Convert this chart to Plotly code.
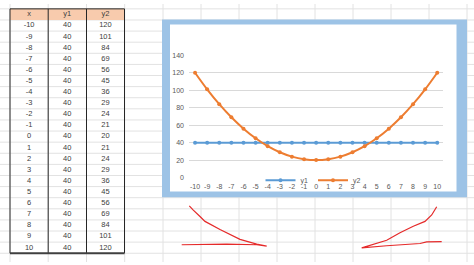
import plotly.graph_objects as go

# ---- data ----
x_vals = [-10, -9, -8, -7, -6, -5, -4, -3, -2, -1, 0, 1, 2, 3, 4, 5, 6, 7, 8, 9, 10]
y1_vals = [40, 40, 40, 40, 40, 40, 40, 40, 40, 40, 40, 40, 40, 40, 40, 40, 40, 40, 40, 40, 40]
y2_vals = [120, 101, 84, 69, 56, 45, 36, 29, 24, 21, 20, 21, 24, 29, 36, 45, 56, 69, 84, 101, 120]
table_headers = ["x", "y1", "y2"]
y_ticks = [0, 20, 40, 60, 80, 100, 120, 140]
x_ticktext = [str(v) for v in x_vals]

W, H = 474, 265
FONT = "Liberation Sans"
TOP, BOT = 5.0, 256.0
PITCH = (BOT - TOP) / 22


def px(v):
    return v / W


def py(v):
    return 1 - v / H


fig = go.Figure()

# chart series
fig.add_trace(go.Scatter(x=x_vals, y=y1_vals, name="y1", mode="lines+markers",
                         line=dict(color="#5b9bd5", width=2),
                         marker=dict(size=4, color="#5b9bd5")))
fig.add_trace(go.Scatter(x=x_vals, y=y2_vals, name="y2", mode="lines+markers",
                         line=dict(color="#ed7d31", width=2, shape="spline"),
                         marker=dict(size=4, color="#ed7d31")))

# spreadsheet table text (header row 0, data rows 1..21)
for ci, (hdr, col) in enumerate(zip(table_headers, [x_vals, y1_vals, y2_vals])):
    fig.add_trace(go.Scatter(
        x=[ci + 0.5] * (len(col) + 1), y=list(range(len(col) + 1)),
        text=[hdr] + [str(v) for v in col], mode="text", textposition="middle center",
        textfont=dict(family=FONT, size=7.5, color="#404040"),
        xaxis="x2", yaxis="y2", showlegend=False, hoverinfo="skip"))

shapes = []
# spreadsheet grid lines (background)
grid_col = "#e2e2e2"
k = -1
while True:
    yy = TOP + PITCH * k
    if yy > H:
        break
    if yy >= 0:
        shapes.append(dict(type="line", xref="paper", yref="paper", layer="below",
                           x0=0, x1=1, y0=py(yy), y1=py(yy),
                           line=dict(color=grid_col, width=1)))
    k += 1
for xx in [10, 48.2, 86.5, 124.7, 163, 201, 239, 277, 315, 353, 391, 429, 467]:
    shapes.append(dict(type="line", xref="paper", yref="paper", layer="below",
                       x0=px(xx), x1=px(xx), y0=0, y1=1,
                       line=dict(color=grid_col, width=1)))
# table header fill
shapes.append(dict(type="rect", xref="paper", yref="paper", layer="below",
                   x0=px(10), x1=px(124.5), y0=py(TOP + PITCH), y1=py(TOP),
                   fillcolor="#f8cbad", line=dict(width=0)))
# chart frame: blue border + white area
shapes.append(dict(type="rect", xref="paper", yref="paper", layer="below",
                   x0=px(162), x1=px(467), y0=py(198.5), y1=py(16),
                   fillcolor="#9dc3e6", line=dict(width=0)))
shapes.append(dict(type="rect", xref="paper", yref="paper", layer="below",
                   x0=px(170), x1=px(456.5), y0=py(192.5), y1=py(21),
                   fillcolor="white", line=dict(width=0)))
# table black borders
for xx in [10, 48.2, 86.5, 124.5]:
    shapes.append(dict(type="line", xref="paper", yref="paper", layer="above",
                       x0=px(xx), x1=px(xx), y0=py(BOT), y1=py(TOP),
                       line=dict(color="#262626", width=1)))
shapes.append(dict(type="line", xref="paper", yref="paper", layer="above",
                   x0=px(10), x1=px(124.5), y0=py(TOP), y1=py(TOP),
                   line=dict(color="#262626", width=1)))
shapes.append(dict(type="line", xref="paper", yref="paper", layer="above",
                   x0=px(10), x1=px(124.5), y0=py(BOT), y1=py(BOT),
                   line=dict(color="#404040", width=2)))


# red hand-drawn annotations
def path(pts):
    return "M" + " L".join(f"{px(a):.5f},{py(b):.5f}" for a, b in pts)


left_stroke = [(189.3, 207.3), (193.3, 211.7), (200, 218.3), (205, 223.3), (220, 231.7),
               (240, 241.7), (256.7, 246.7), (266.7, 248.6), (256.7, 247.3), (226.7, 246.7),
               (181.7, 247.3)]
right_stroke = [(436.7, 208.3), (431.7, 216.7), (425, 223.3), (413.3, 228.3), (400, 235),
                (386.7, 242.7), (361.7, 250.5), (386.7, 248.3), (420, 246), (426.7, 244.3),
                (441.7, 244)]
for pts in (left_stroke, right_stroke):
    shapes.append(dict(type="path", xref="paper", yref="paper", layer="above",
                       path=path(pts), line=dict(color="#e52a2a", width=1.2)))

fig.update_layout(
    width=W, height=H, autosize=False,
    margin=dict(l=0, r=0, t=0, b=0, pad=0),
    paper_bgcolor="white", plot_bgcolor="rgba(0,0,0,0)",
    font=dict(family=FONT, size=7, color="#595959"),
    shapes=shapes,
    showlegend=True,
    legend=dict(orientation="h", x=px(313), y=py(181), xanchor="center", yanchor="middle",
                bgcolor="rgba(0,0,0,0)", font=dict(size=7, color="#595959"),
                itemwidth=30, tracegroupgap=0),
    xaxis=dict(domain=[px(189), px(443.3)], range=[-10.5, 10.5], tickvals=x_vals,
               ticktext=x_ticktext,
               showgrid=False, zeroline=False, showline=False, ticks="",
               tickfont=dict(size=7, color="#595959"), ticklabelstandoff=3, fixedrange=True),
    yaxis=dict(domain=[py(178.3), py(52.7)], range=[0, 140], tickvals=y_ticks,
               showgrid=True, gridcolor="#d9d9d9", gridwidth=1, zeroline=False,
               showline=False, ticks="", tickfont=dict(size=7, color="#595959"),
               ticklabelstandoff=4, fixedrange=True),
    xaxis2=dict(domain=[px(10), px(124.5)], range=[0, 3], visible=False, fixedrange=True),
    yaxis2=dict(domain=[py(BOT), py(TOP)], range=[21.5, -0.5], visible=False,
                fixedrange=True, anchor="x2"),
)
fig.layout.xaxis2.anchor = "y2"

fig.write_html("out.html")
